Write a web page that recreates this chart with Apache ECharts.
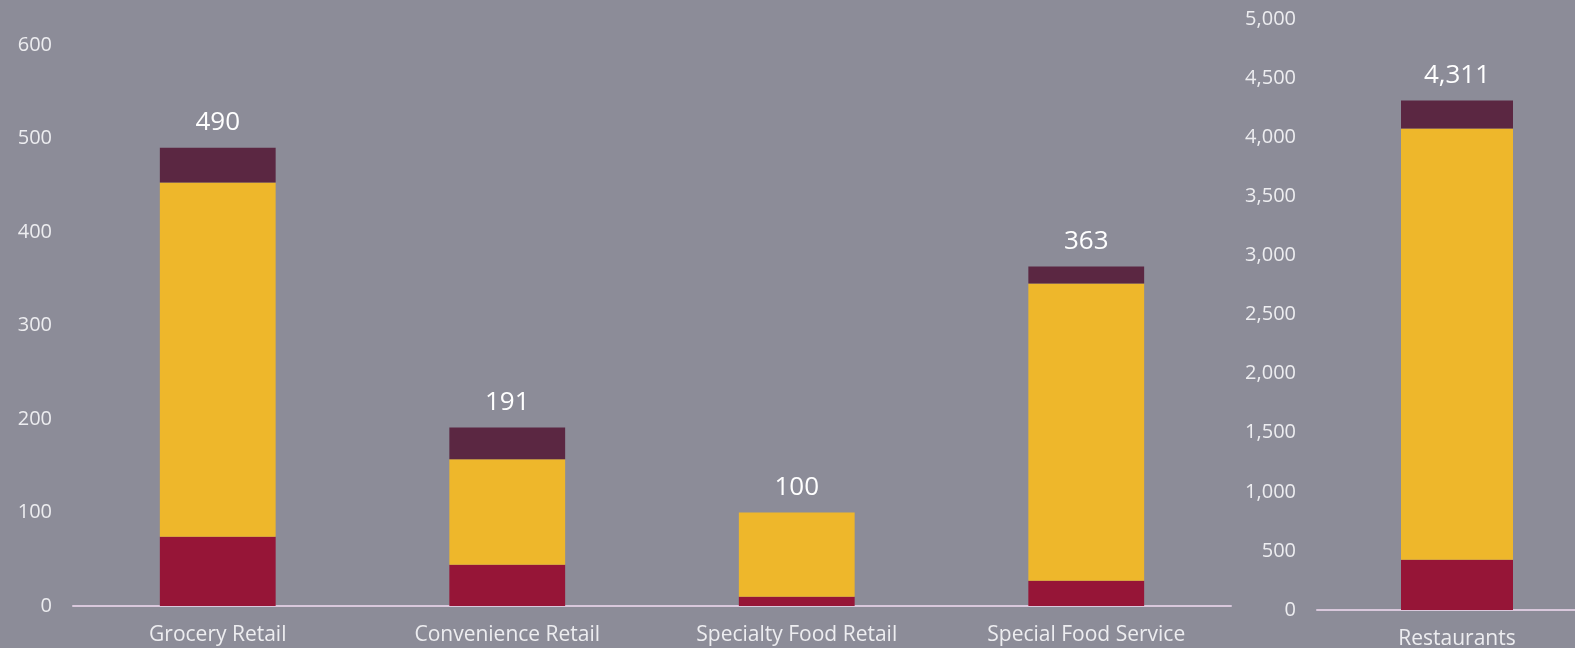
<!DOCTYPE html>
<html>
<head>
<meta charset="utf-8">
<script src="https://cdn.jsdelivr.net/npm/echarts@6/dist/echarts.min.js"></script>
<style>
html,body{margin:0;padding:0;background:#8C8C98;}
#chart{width:1575px;height:648px;}
</style>
</head>
<body>
<div id="chart"></div>
<script>
const categories = ['Grocery Retail', 'Convenience Retail', 'Specialty Food Retail', 'Special Food Service'];
const redValues = [74, 44, 10, 27];
const yellowValues = [379, 113, 90, 318];
const darkValues = [37, 34, 0, 18];
const totals = [490, 191, 100, 363];

const restCategories = ['Restaurants'];
const restRed = [425];
const restYellow = [3648];
const restDark = [238];
const restTotals = [4311];

const RED = '#961537', YELLOW = '#EEB72B', DARK = '#5B2742';
const AXIS_TEXT = '#EDEDF0';
const AXIS_LINE = '#D9C8DC';

function fmt(v){ return String(v).replace(/\B(?=(\d{3})+(?!\d))/g, ','); }

const chart = echarts.init(document.getElementById('chart'));

const catAxis = (idx, data) => ({
  type: 'category', gridIndex: idx, data: data,
  axisLine: {show: true, lineStyle: {color: AXIS_LINE, width: 2}},
  axisTick: {show: false},
  axisLabel: {color: AXIS_TEXT, fontSize: 21, fontFamily: 'Open Sans', margin: 19}
});
const valAxis = (idx, max, interval) => ({
  type: 'value', gridIndex: idx, min: 0, max: max, interval: interval,
  splitLine: {show: false}, axisLine: {show: false}, axisTick: {show: false},
  axisLabel: {color: AXIS_TEXT, fontSize: 20, fontFamily: 'Open Sans', margin: 21, formatter: v => fmt(v)}
});

const seg = (name, color, data, axis, stack, totalsArr) => {
  const s = {
    name: name, type: 'bar', stack: stack, data: data, barWidth: '40%',
    xAxisIndex: axis, yAxisIndex: axis,
    itemStyle: {color: color},
    emphasis: {disabled: true}
  };
  if (totalsArr) {
    s.label = {show: true, position: 'top', distance: 12, color: '#FFFFFF', fontSize: 26,
      fontFamily: 'Open Sans', formatter: p => fmt(totalsArr[p.dataIndex])};
  }
  return s;
};

chart.setOption({
  backgroundColor: '#8C8C98',
  animation: false,
  grid: [
    {left: 73, right: 344, top: 45, bottom: 42, containLabel: false, outerBoundsMode: 'none'},
    {left: 1317, width: 280, top: 19, bottom: 38, containLabel: false, outerBoundsMode: 'none'}
  ],
  xAxis: [catAxis(0, categories), catAxis(1, restCategories)],
  yAxis: [valAxis(0, 600, 100), valAxis(1, 5000, 500)],
  series: [
    seg('red', RED, redValues, 0, 'a'),
    seg('yellow', YELLOW, yellowValues, 0, 'a'),
    seg('dark', DARK, darkValues, 0, 'a', totals),
    seg('red', RED, restRed, 1, 'b'),
    seg('yellow', YELLOW, restYellow, 1, 'b'),
    seg('dark', DARK, restDark, 1, 'b', restTotals)
  ]
});
</script>
</body>
</html>
